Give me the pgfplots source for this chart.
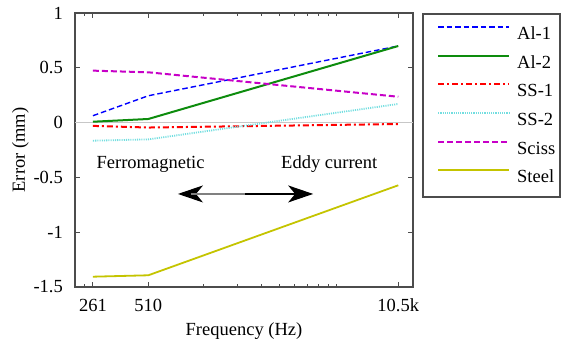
\documentclass[border=0pt]{standalone}
\usepackage{fontspec}
\setmainfont{Liberation Serif}
\usepackage{pgfplots}
\pgfplotsset{compat=1.18}
\usetikzlibrary{arrows.meta}
\definecolor{cAlone}{rgb}{0,0,1}
\definecolor{cAltwo}{rgb}{0.05,0.55,0.05}
\definecolor{cSSone}{rgb}{1,0,0}
\definecolor{cSStwo}{rgb}{0.45,0.87,0.88}
\definecolor{cSciss}{rgb}{0.78,0,0.78}
\definecolor{cSteel}{rgb}{0.77,0.77,0}
\newcommand{\bigfont}{\fontsize{18.5}{22}\selectfont}
\begin{document}
\begin{tikzpicture}
\useasboundingbox (-75pt,-56pt) rectangle (486pt,287pt);
\begin{axis}[
  scale only axis, width=338pt, height=274pt,
  xmode=log, xmin=210, xmax=12550, ymin=-1.5, ymax=1,
  xtick={261,510,10500}, xticklabels={261,510,10.5k},
  minor xtick={236,1000,1500,2000,2500,3000,3500,4000,4500,5000},
  ytick={-1.5,-1,-0.5,0,0.5,1}, yticklabels={-1.5,-1,-0.5,0,0.5,1},
  extra y ticks={0}, extra y tick labels={},
  extra y tick style={grid=major, major tick length=0pt,
    major grid style={black!22, line width=1.3pt}},
  tick align=inside, tick pos=both,
  major tick length=5pt, minor tick length=3pt,
  every tick/.style={black!70, line width=1pt},
  axis line style={black!70, line width=1.2pt},
  font=\bigfont,
  ticklabel style={font=\bigfont},
  xticklabel style={anchor=base, yshift=-24.5pt, inner sep=0pt},
  yticklabel style={anchor=east, xshift=-12pt, inner sep=0pt},
  xlabel={Frequency (Hz)}, ylabel={Error (mm)},
  xlabel style={at={(axis description cs:0.5,-0.1788)}, anchor=base, inner sep=0pt},
  ylabel style={at={(axis description cs:-0.148,0.5)}, anchor=base, inner sep=0pt},
  legend style={name=leg, at={(axis description cs:1.0296,0.9964)}, anchor=north west,
    draw=none, fill=none, inner xsep=14pt, inner ysep=9.5pt,
    row sep=10.3pt, column sep=7pt, font=\bigfont,
    nodes={inner sep=0pt, text height=16pt, text depth=2.3pt}},
  legend cell align=left,
  legend image code/.code={\draw[#1] (0pt,5.7pt) -- (71pt,5.7pt);},
]
\addplot[color=cAlone, solid, line width=1.4pt, dash pattern=on 5.5pt off 3pt] coordinates {(261,0.063) (510,0.245) (10500,0.699)};
\addlegendentry{Al-1}
\addplot[color=cAltwo, solid, line width=2pt] coordinates {(261,0.008) (510,0.033) (10500,0.699)};
\addlegendentry{Al-2}
\addplot[color=cSSone, solid, line width=2pt, dash pattern=on 6pt off 3pt on 2pt off 3pt] coordinates {(261,-0.030) (510,-0.045) (10500,-0.013)};
\addlegendentry{SS-1}
\addplot[color=cSStwo, solid, line width=1.8pt, dash pattern=on 1.1pt off 1.1pt] coordinates {(261,-0.165) (510,-0.153) (10500,0.170)};
\addlegendentry{SS-2}
\addplot[color=cSciss, solid, line width=2pt, dash pattern=on 6pt off 3pt] coordinates {(261,0.474) (510,0.459) (10500,0.236)};
\addlegendentry{Sciss}
\addplot[color=cSteel, solid, line width=1.8pt] coordinates {(261,-1.406) (510,-1.393) (10500,-0.572)};
\addlegendentry{Steel}
\node[anchor=base, inner sep=0pt, font=\bigfont] at (axis cs:524,-0.42) {Ferromagnetic};
\node[anchor=base, inner sep=0pt, font=\bigfont] at (axis cs:4556,-0.42) {Eddy current};
\draw[black, line width=1.1pt, {Stealth[length=25pt,width=17pt,inset=7pt]}-{Stealth[length=25pt,width=17pt,inset=7pt]}] (axis cs:730,-0.651) -- (axis cs:3749,-0.651);
\draw[gray, line width=1.1pt] (axis cs:850,-0.651) -- (axis cs:1646,-0.651);
\end{axis}
\draw[black!70, line width=1.2pt] (348pt,90pt) rectangle (485pt,273pt);
\end{tikzpicture}
\end{document}
